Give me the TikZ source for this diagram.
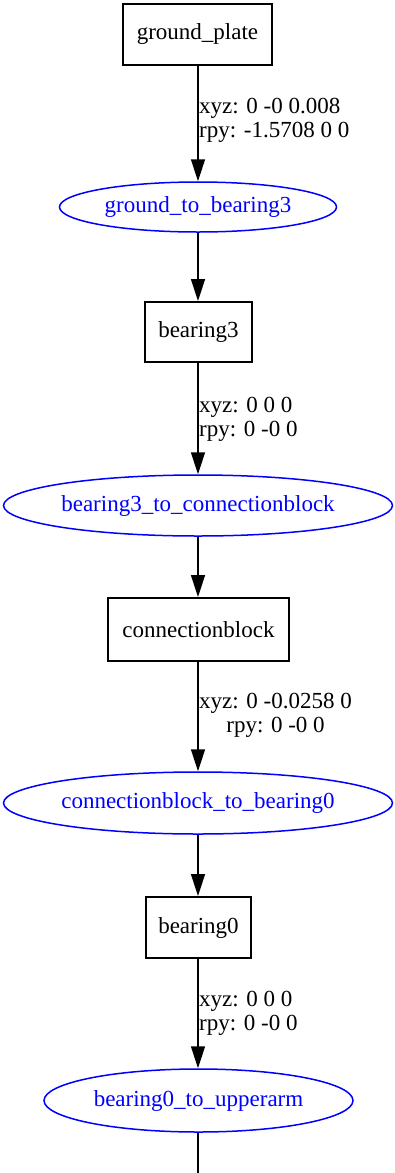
\documentclass[tikz,border=0pt]{standalone}
\usepackage{fontspec}
\setmainfont{Liberation Serif}
\usetikzlibrary{shapes.geometric,arrows.meta}
\definecolor{gvblue}{RGB}{0,0,255}
\tikzset{
  linkbox/.style={draw=black,line width=2pt,rectangle,inner sep=0pt,font=\fontsize{23}{24}\selectfont},
  jointell/.style={draw=gvblue,line width=1.5pt,ellipse,inner sep=0pt,text=gvblue,font=\fontsize{23}{24}\selectfont},
  conn/.style={draw=black,line width=1.5pt,-{Triangle[length=22pt,width=14pt]}},
  plainconn/.style={draw=black,line width=1.5pt},
  lbl/.style={anchor=west,inner sep=0pt,font=\fontsize{23}{24}\selectfont}
}
\begin{document}
\begin{tikzpicture}[x=1pt,y=-1pt]
\useasboundingbox (0,0) rectangle (394,1173);
\node[linkbox,minimum width=149pt,minimum height=61pt] (gp) at (197.5,34.5) {ground\_plate};
\node[jointell,minimum width=277pt,minimum height=50pt] (j1) at (198,207) {ground\_to\_bearing3};
\node[linkbox,minimum width=107pt,minimum height=60pt] (b3) at (198.5,332) {bearing3};
\node[jointell,minimum width=389pt,minimum height=61pt] (j2) at (198,505.5) {bearing3\_to\_connectionblock};
\node[linkbox,minimum width=181pt,minimum height=63pt] (cb) at (198.5,629.5) {connectionblock};
\node[jointell,minimum width=389pt,minimum height=62pt] (j3) at (198,803) {connectionblock\_to\_bearing0};
\node[linkbox,minimum width=105pt,minimum height=61pt] (b0) at (198.5,927.5) {bearing0};
\node[jointell,minimum width=309pt,minimum height=63pt] (j4) at (198.5,1100.5) {bearing0\_to\_upperarm};
\coordinate (end) at (198.5,1173);

\draw[conn] (gp.south -| 198,0) -- (j1.north -| 198,0);
\draw[conn] (j1.south -| 198,0) -- (b3.north -| 198,0);
\draw[conn] (b3.south -| 198,0) -- (j2.north -| 198,0);
\draw[conn] (j2.south -| 198,0) -- (cb.north -| 198,0);
\draw[conn] (cb.south -| 198,0) -- (j3.north -| 198,0);
\draw[conn] (j3.south -| 198,0) -- (b0.north -| 198,0);
\draw[conn] (b0.south -| 198,0) -- (j4.north -| 198,0);
\draw[plainconn] (j4.south -| 198,0) -- (end -| 198,0);

\node[lbl,align=left] (l1) at (199,120) {xyz: 0 -0 0.008\\rpy: -1.5708 0 0};
\node[lbl,align=left] (l2) at (199,419) {xyz: 0 0 0\\rpy: 0 -0 0};
\node[lbl,align=center] (l3) at (199,715) {xyz: 0 -0.0258 0\\rpy: 0 -0 0};
\node[lbl,align=left] (l4) at (199,1013) {xyz: 0 0 0\\rpy: 0 -0 0};
\end{tikzpicture}
\end{document}
